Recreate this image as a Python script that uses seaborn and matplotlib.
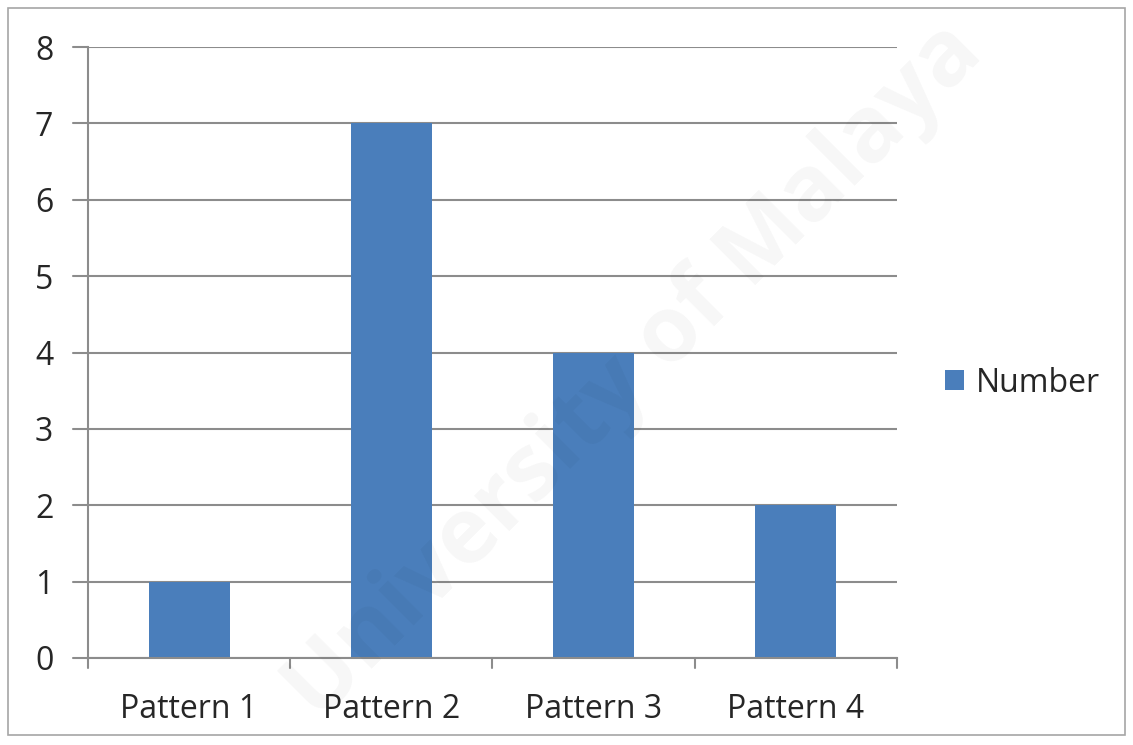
import matplotlib
matplotlib.use("Agg")
import matplotlib.pyplot as plt
import seaborn as sns
import pandas as pd
from matplotlib.patches import Rectangle

categories = ["Pattern 1", "Pattern 2", "Pattern 3", "Pattern 4"]
values = [1, 7, 4, 2]
series_name = "Number"
yticks = [0, 1, 2, 3, 4, 5, 6, 7, 8]

sns.set_theme(style="white")
plt.rcParams['font.family'] = ['Open Sans', 'DejaVu Sans']

df = pd.DataFrame({"cat": categories, "val": values, "series": series_name})

W, H = 1133, 745
fig = plt.figure(figsize=(W / 100, H / 100), dpi=100)
ax = fig.add_axes([88 / W, 1 - 658 / H, (897 - 88) / W, (658 - 47) / H])

bar_color = "#4A7EBB"
sns.barplot(data=df, x="cat", y="val", hue="series", palette=[bar_color],
            width=0.4, ax=ax, saturation=1, legend=True, linewidth=0)

ax.set_ylim(0, 8)
ax.set_xlim(-0.5, 3.5)
ax.set_yticks(yticks)
ax.set_yticklabels([str(t) for t in yticks], fontsize=23, color="#262626")
ax.tick_params(axis="x", labelsize=23, colors="#262626", length=0, pad=25)
ax.tick_params(axis="y", length=0, pad=25)
ax.set_xlabel("")
ax.set_ylabel("")

grid_color = "#8c8c8c"
ax.yaxis.grid(True, color=grid_color, linewidth=1.5)
ax.set_axisbelow(True)
for s in ["top", "right"]:
    ax.spines[s].set_visible(False)
ax.spines["left"].set_color(grid_color)
ax.spines["left"].set_linewidth(1.5)
ax.spines["bottom"].set_color(grid_color)
ax.spines["bottom"].set_linewidth(1.5)

# Excel-like outward tick marks
for t in yticks:
    ax.plot([-0.5 - 0.075, -0.5], [t, t], color=grid_color, lw=1.5, clip_on=False)
for b in [-0.5, 0.5, 1.5, 2.5, 3.5]:
    ax.plot([b, b], [0, -0.13], color=grid_color, lw=1.5, clip_on=False)

leg = ax.legend(loc="center left", bbox_to_anchor=(1.024, 0.45), frameon=False,
                fontsize=23, handlelength=0.6, handleheight=0.6, handletextpad=0.35)
for txt in leg.get_texts():
    txt.set_color("#262626")

# watermark
fig.text(0.56, 0.5, "University of Malaya", fontsize=66, color="#000000", alpha=0.035,
         rotation=45, ha="center", va="center", fontweight="bold")

# outer chart border
fig.patches.append(Rectangle((8 / W, 1 - 735 / H), (1125 - 8) / W, (735 - 8) / H,
                             transform=fig.transFigure, fill=False,
                             edgecolor="#a6a6a6", linewidth=1.2))

fig.savefig("out.png", dpi=100, facecolor="white")
